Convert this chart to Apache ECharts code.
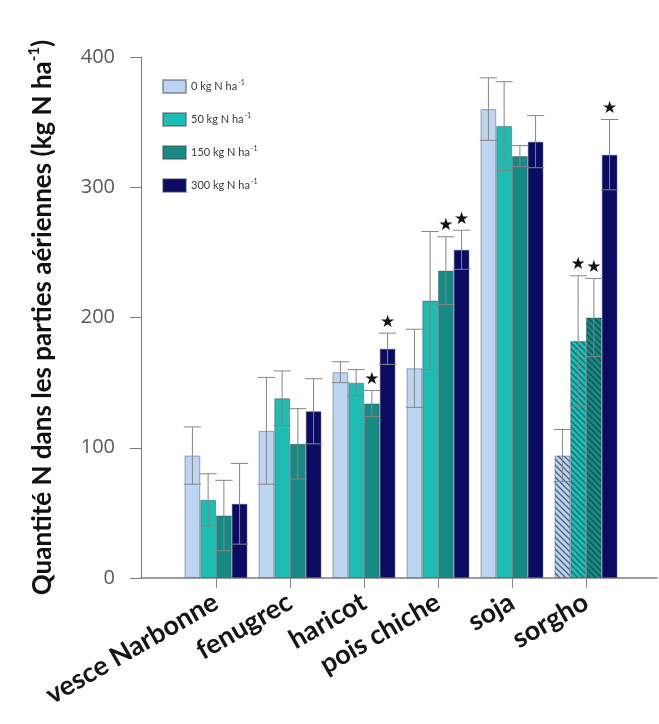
<!DOCTYPE html>
<html>
<head>
<meta charset="utf-8">
<script src="https://cdn.jsdelivr.net/npm/echarts@6/dist/echarts.min.js"></script>
<style>
  html, body { margin: 0; padding: 0; background: #fff; }
  #chart { width: 659px; height: 724px; }
</style>
</head>
<body>
<div id="chart"></div>
<script>
// Crops and nitrogen treatments
const categories = ['vesce Narbonne', 'fenugrec', 'haricot', 'pois chiche', 'soja', 'sorgho'];
const treatments = ['0 kg N ha', '50 kg N ha', '150 kg N ha', '300 kg N ha'];

// Shoot N (kg N/ha), mean and error per treatment
const n0     = [94, 113, 158, 161, 360, 94];
const n0Err  = [22, 41, 8, 30, 24, 20];
const n50    = [60, 138, 150, 213, 347, 182];
const n50Err = [20, 21, 10, 53, 34, 50];
const n150    = [48, 103, 134, 236, 324, 200];
const n150Err = [27, 27, 10, 26, 8, 30];
const n300    = [57, 128, 176, 252, 335, 325];
const n300Err = [31, 25, 12, 15, 20, 27];

// Significance marks (1 = star)
const n0Sig   = [0, 0, 0, 0, 0, 0];
const n50Sig  = [0, 0, 0, 0, 0, 1];
const n150Sig = [0, 0, 1, 1, 0, 1];
const n300Sig = [0, 0, 1, 1, 0, 1];

// Hatched bars (non-legume reference crop)
const n0Hatch   = [0, 0, 0, 0, 0, 1];
const n50Hatch  = [0, 0, 0, 0, 0, 1];
const n150Hatch = [0, 0, 0, 0, 0, 1];
const n300Hatch = [0, 0, 0, 0, 0, 0];

// Y axis ticks
const yMin = 0, yMax = 400, yStep = 100;

const colors = ['#bcd6f1', '#1ebdb4', '#178a83', '#0b0b62'];
const hatchInk = ['#4a5f80', '#0d6e70', '#0a5550', '#000000'];
const CAT_GAP = 0.15;

const means = [n0, n50, n150, n300];
const errs = [n0Err, n50Err, n150Err, n300Err];
const sigs = [n0Sig, n50Sig, n150Sig, n300Sig];
const hatches = [n0Hatch, n50Hatch, n150Hatch, n300Hatch];

// Diagonal "\" hatch tile used as a fill pattern
function hatchTile(bg, ink) {
  const s = 6;
  const c = document.createElement('canvas');
  c.width = s; c.height = s;
  const g = c.getContext('2d');
  g.fillStyle = bg;
  g.fillRect(0, 0, s, s);
  g.strokeStyle = ink;
  g.lineWidth = 1.3;
  g.beginPath();
  g.moveTo(-1, -1); g.lineTo(s + 1, s + 1);
  g.moveTo(-1, s - 1); g.lineTo(1, s + 1);
  g.moveTo(s - 1, -1); g.lineTo(s + 1, 1);
  g.stroke();
  return c;
}

function barSeries(k) {
  return {
    name: treatments[k],
    type: 'bar',
    xAxisIndex: 1,
    yAxisIndex: 1,
    barGap: '0%',
    barCategoryGap: (CAT_GAP * 100) + '%',
    itemStyle: { color: colors[k], borderColor: 'rgba(60,70,95,0.45)', borderWidth: 1 },
    data: means[k].map(function (v, i) {
      const item = { value: v };
      if (hatches[k][i]) {
        item.itemStyle = {
          color: { image: hatchTile(colors[k], hatchInk[k]), repeat: 'repeat' }
        };
      }
      return item;
    }),
    z: 2
  };
}

function errSeries(k) {
  return {
    type: 'custom',
    xAxisIndex: 1,
    yAxisIndex: 1,
    silent: true,
    z: 5,
    data: means[k].map(function (v, i) { return [i, v, errs[k][i], sigs[k][i]]; }),
    renderItem: function (params, api) {
      const c = api.value(0), v = api.value(1), e = api.value(2), s = api.value(3);
      const band = api.size([1, 0])[0];
      const bw = band * (1 - CAT_GAP) / 4;
      const x = api.coord([c, v])[0] + (k - 1.5) * bw;
      const top = api.coord([c, v + e])[1];
      const bot = api.coord([c, v - e])[1];
      const half = bw * 0.55;
      const st = { stroke: '#858585', lineWidth: 1 };
      const children = [
        { type: 'line', shape: { x1: x, y1: top, x2: x, y2: bot }, style: st },
        { type: 'line', shape: { x1: x - half, y1: top, x2: x + half, y2: top }, style: st },
        { type: 'line', shape: { x1: x - half, y1: bot, x2: x + half, y2: bot }, style: st }
      ];
      if (s) {
        children.push({
          type: 'text',
          style: {
            text: '★', x: x, y: top - 11,
            align: 'center', verticalAlign: 'middle',
            fill: '#111', font: '17px "DejaVu Sans"'
          }
        });
      }
      return { type: 'group', children: children };
    }
  };
}

const chart = echarts.init(document.getElementById('chart'), null, { renderer: 'canvas' });

const series = [];
for (let k = 0; k < 4; k++) series.push(barSeries(k));
for (let k = 0; k < 4; k++) series.push(errSeries(k));

chart.setOption({
  animation: false,
  backgroundColor: '#ffffff',
  grid: [
    { left: 141, top: 57, width: 516, height: 521 },
    { left: 179, top: 57, width: 444, height: 521 }
  ],
  legend: {
    data: treatments,
    orient: 'vertical',
    left: 157,
    top: 74,
    icon: 'rect',
    itemWidth: 23,
    itemHeight: 13,
    itemGap: 18,
    formatter: function (name) { return '{a|' + name + '}{s|-1}'; },
    textStyle: {
      color: '#3a3a3a',
      rich: {
        a: { fontFamily: 'Lato', fontSize: 11, color: '#3a3a3a', lineHeight: 14 },
        s: { fontFamily: 'Lato', fontSize: 7, color: '#3a3a3a', lineHeight: 14, verticalAlign: 'top', padding: [0, 0, 6, 1] }
      }
    }
  },
  xAxis: [
    {
      gridIndex: 0, type: 'value', min: 0, max: 1,
      axisLine: { show: true, lineStyle: { color: '#7d7d7d', width: 1.5 } },
      axisTick: { show: false }, axisLabel: { show: false }, splitLine: { show: false }
    },
    {
      gridIndex: 1, type: 'category', data: categories,
      axisLine: { show: false },
      axisTick: { show: true, alignWithLabel: true, length: 10, lineStyle: { color: '#8a8a8a' } },
      axisLabel: {
        rotate: 30, margin: 22, interval: 0,
        fontFamily: 'Lato', fontSize: 27, fontWeight: 'bold', color: '#151515'
      }
    }
  ],
  yAxis: [
    {
      gridIndex: 0, type: 'value', min: yMin, max: yMax, interval: yStep,
      axisLine: { show: true, lineStyle: { color: '#7d7d7d', width: 1 } },
      axisTick: { show: true, inside: false, length: 11, lineStyle: { color: '#7d7d7d' } },
      axisLabel: { margin: 26, fontFamily: 'Open Sans', fontSize: 20, color: '#595959' },
      splitLine: { show: false },
      name: '{a|Quantité N dans les parties aériennes (kg N ha}{s|-1}{a|)}',
      nameLocation: 'middle',
      nameGap: 82,
      nameTextStyle: {
        rich: {
          a: { fontFamily: 'Lato', fontWeight: 'bold', fontSize: 26, color: '#111', lineHeight: 32 },
          s: { fontFamily: 'Lato', fontWeight: 'bold', fontSize: 15, color: '#111', lineHeight: 32, verticalAlign: 'top', padding: [0, 0, 13, 0] }
        }
      }
    },
    {
      gridIndex: 1, type: 'value', min: yMin, max: yMax, interval: yStep, show: false
    }
  ],
  series: series
});
</script>
</body>
</html>
